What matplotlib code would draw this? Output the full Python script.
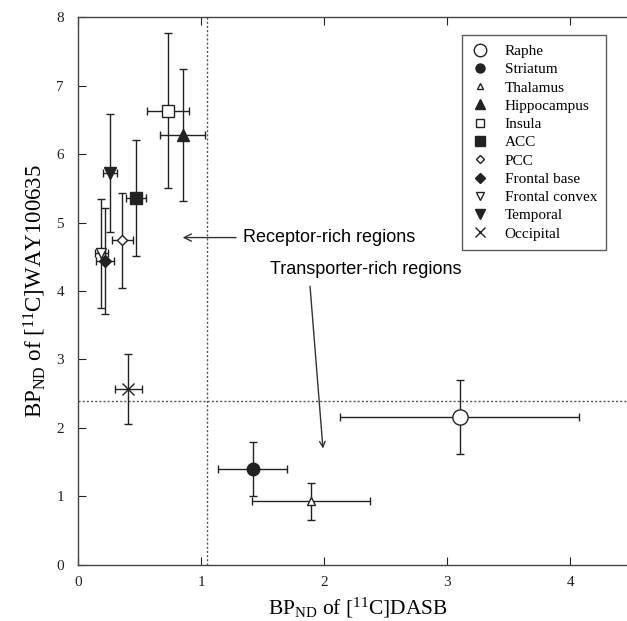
import matplotlib
matplotlib.use("Agg")
import matplotlib.pyplot as plt
from matplotlib.lines import Line2D

regions = ['Raphe', 'Striatum', 'Thalamus', 'Hippocampus', 'Insula', 'ACC',
           'PCC', 'Frontal base', 'Frontal convex', 'Temporal', 'Occipital']
dasb = [3.10, 1.42, 1.89, 0.85, 0.73, 0.47, 0.36, 0.22, 0.19, 0.26, 0.41]
dasb_err = [0.97, 0.28, 0.48, 0.18, 0.17, 0.08, 0.085, 0.075, 0.055, 0.055, 0.11]
way = [2.16, 1.40, 0.93, 6.28, 6.63, 5.36, 4.74, 4.44, 4.55, 5.72, 2.57]
way_err = [0.54, 0.40, 0.27, 0.96, 1.13, 0.85, 0.69, 0.77, 0.80, 0.86, 0.51]

markers = ['o', 'o', '^', '^', 's', 's', 'D', 'D', 'v', 'v', 'x']
filled = [False, True, False, True, False, True, False, True, False, True, True]
msizes = [11, 9, 6, 8, 8, 9, 5.5, 6, 7, 8, 8]
leg_sizes = [9, 6.5, 5, 6.5, 6, 6.5, 4.5, 5, 5.5, 6.5, 7]

x_thresh = 1.05
y_thresh = 2.4

plt.rcParams['font.family'] = ['Liberation Serif', 'DejaVu Serif']
plt.rcParams['mathtext.fontset'] = 'custom'
plt.rcParams['mathtext.rm'] = 'Liberation Serif'
plt.rcParams['mathtext.it'] = 'Liberation Serif:italic'

fig = plt.figure(figsize=(6.27, 6.21), dpi=100)
ax = fig.add_axes([0.1244, 0.0902, 0.8756, 0.8824])

lc = '#222222'
handles = []
for i, name in enumerate(regions):
    face = lc if filled[i] else 'white'
    ax.errorbar(dasb[i], way[i], xerr=dasb_err[i], yerr=way_err[i],
                fmt=markers[i], color=lc, ecolor=lc, elinewidth=1.0,
                capsize=3, capthick=1.0, markersize=msizes[i],
                markerfacecolor=face, markeredgecolor=lc,
                markeredgewidth=1.0, zorder=3)
    handles.append(Line2D([], [], linestyle='none', marker=markers[i],
                          markersize=leg_sizes[i], markerfacecolor=face,
                          markeredgecolor=lc, markeredgewidth=1.0,
                          label=name))

ax.axvline(x_thresh, color='#555555', linestyle=(0, (1.5, 1.5)), linewidth=1.0)
ax.axhline(y_thresh, color='#555555', linestyle=(0, (1.5, 1.5)), linewidth=1.0)

ax.set_xlim(0, 4.46)
ax.set_ylim(0, 8)
ax.set_xticks([0, 1, 2, 3, 4])
ax.set_yticks(range(0, 9))
ax.tick_params(direction='in', top=True, bottom=True, left=True, right=False,
               labelsize=11, length=6, width=0.8, colors='#222222')
ax.tick_params(axis='x', pad=8)
ax.tick_params(axis='y', pad=10)
ax.spines['right'].set_visible(False)
for s in ['left', 'top', 'bottom']:
    ax.spines[s].set_color('#444444')
    ax.spines[s].set_linewidth(1.0)

ax.set_xlabel(r'BP$_{\rm ND}$ of [$^{11}$C]DASB', fontsize=15.5)
ax.xaxis.set_label_coords(0.51, -0.056)
ax.xaxis.label.set_va('top')
ax.set_ylabel(r'BP$_{\rm ND}$ of [$^{11}$C]WAY100635', fontsize=16.5)
ax.yaxis.set_label_coords(-0.078, 0.5)
ax.yaxis.label.set_va('center')

ax.annotate('Receptor-rich regions', xy=(0.85, 4.78), xytext=(1.34, 4.78),
            fontsize=13, family=['Liberation Sans', 'DejaVu Sans'],
            va='center', ha='left',
            arrowprops=dict(arrowstyle='->', color='#333333', lw=1.0,
                            shrinkA=3, shrinkB=0))
ax.text(1.56, 4.32, 'Transporter-rich regions', fontsize=13,
        family=['Liberation Sans', 'DejaVu Sans'], va='center', ha='left')
ax.annotate('', xy=(1.99, 1.70), xytext=(1.885, 4.07),
            arrowprops=dict(arrowstyle='->', color='#333333', lw=1.0,
                            shrinkA=0, shrinkB=0))

leg = ax.legend(handles=handles, loc='upper left',
                bbox_to_anchor=(0.699, 0.967),
                borderaxespad=0, fontsize=11, frameon=True, fancybox=False,
                edgecolor='#333333', labelspacing=0.3, handlelength=1.2,
                handletextpad=1.0, borderpad=0.6, numpoints=1)
leg.get_frame().set_linewidth(1.0)

fig.savefig('out.png', dpi=100)
